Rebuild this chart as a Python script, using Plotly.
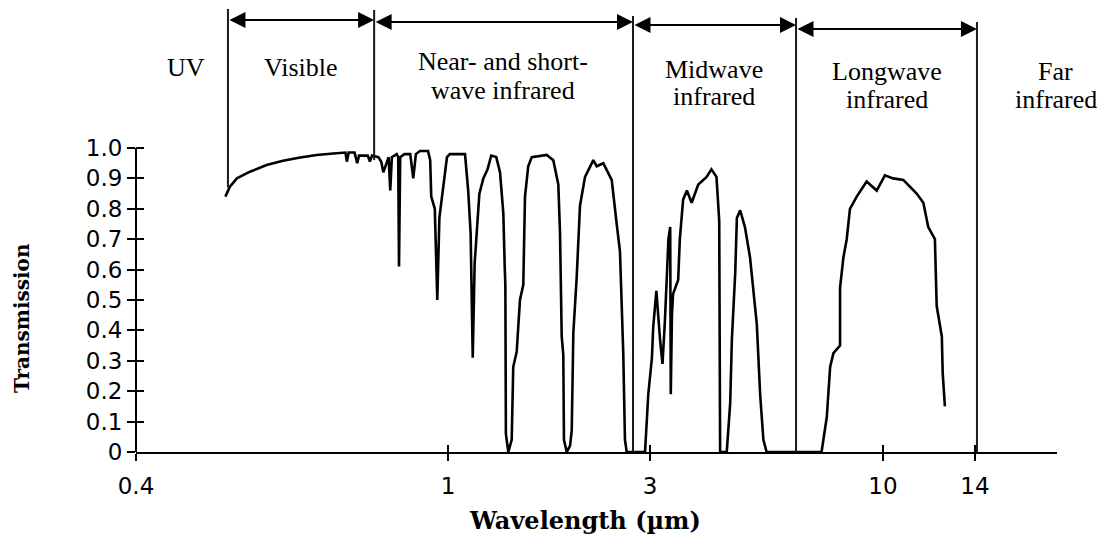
import numpy as np
import plotly.graph_objects as go

# ---------------- data ----------------
WAVELENGTH = [
    0.520, 0.527, 0.538, 0.559, 0.587, 0.616, 0.648, 0.680, 0.714, 0.732,
    0.740, 0.743, 0.747, 0.760, 0.766, 0.770, 0.790, 0.795, 0.800, 0.815,
    0.822, 0.827, 0.835, 0.840, 0.844, 0.848, 0.860, 0.864, 0.866, 0.869,
    0.880, 0.895, 0.903, 0.910, 0.921, 0.943, 0.949, 0.952, 0.962, 0.969,
    0.975, 0.987, 0.997, 1.010, 1.097, 1.116, 1.131, 1.144, 1.156, 1.169,
    1.186, 1.212, 1.240, 1.265, 1.300, 1.327, 1.351, 1.362, 1.366, 1.370,
    1.388, 1.414, 1.426, 1.453, 1.479, 1.506, 1.520, 1.547, 1.577, 1.711,
    1.773, 1.822, 1.839, 1.856, 1.872, 1.879, 1.907, 1.942, 1.960, 1.977,
    2.014, 2.050, 2.107, 2.204, 2.245, 2.327, 2.436, 2.503, 2.548, 2.594,
    2.618, 2.643,
    2.920, 2.972, 3.03, 3.05, 3.10, 3.16, 3.20, 3.24, 3.30, 3.33,
    3.34, 3.36, 3.38, 3.47, 3.50, 3.56, 3.63, 3.72, 3.85, 4.02,
    4.12, 4.23, 4.29, 4.31,
    4.46, 4.54, 4.58, 4.66, 4.70, 4.78, 4.90, 5.03, 5.12, 5.21,
    5.30, 5.39, 5.48,
    7.28, 7.48, 7.61, 7.74, 8.01, 8.01, 8.15, 8.29, 8.43, 8.73,
    9.19, 9.68, 10.07, 10.38, 10.77, 11.31, 11.59, 11.80, 12.09, 12.17,
    12.40, 12.44, 12.54,
]
TRANSMISSION = [
    0.84, 0.873, 0.90, 0.922, 0.944, 0.958, 0.969, 0.977, 0.982, 0.985,
    0.985, 0.955, 0.985, 0.985, 0.95, 0.975, 0.975, 0.955, 0.975, 0.97,
    0.955, 0.92, 0.95, 0.97, 0.86, 0.97, 0.98, 0.97, 0.61, 0.97,
    0.98, 0.98, 0.90, 0.98, 0.99, 0.99, 0.96, 0.84, 0.80, 0.50,
    0.77, 0.88, 0.97, 0.98, 0.98, 0.86, 0.72, 0.31, 0.62, 0.72,
    0.85, 0.90, 0.93, 0.975, 0.97, 0.92, 0.785, 0.60, 0.55, 0.06,
    0.0, 0.04, 0.28, 0.33, 0.50, 0.55, 0.84, 0.94, 0.97, 0.977,
    0.96, 0.88, 0.72, 0.38, 0.32, 0.04, 0.0, 0.02, 0.07, 0.39,
    0.577, 0.81, 0.905, 0.96, 0.94, 0.95, 0.895, 0.75, 0.66, 0.325,
    0.04, 0.0,
    0.0, 0.19, 0.31, 0.41, 0.53, 0.37, 0.29, 0.43, 0.70, 0.74,
    0.19, 0.45, 0.52, 0.566, 0.70, 0.83, 0.86, 0.82, 0.88, 0.905,
    0.93, 0.905, 0.76, 0.0,
    0.0, 0.16, 0.37, 0.59, 0.77, 0.795, 0.74, 0.64, 0.54, 0.42,
    0.19, 0.04, 0.0,
    0.0, 0.116, 0.28, 0.325, 0.35, 0.54, 0.64, 0.70, 0.80, 0.84,
    0.89, 0.86, 0.91, 0.90, 0.895, 0.85, 0.82, 0.74, 0.70, 0.48,
    0.38, 0.26, 0.15,
]

X_TICK_WL = [0.4, 1, 3, 10, 14]
X_TICK_TEXT = ["0.4", "1", "3", "10", "14"]
Y_TICKS = [0, 0.1, 0.2, 0.3, 0.4, 0.5, 0.6, 0.7, 0.8, 0.9, 1.0]
Y_TICK_TEXT = ["0", "0.1", "0.2", "0.3", "0.4", "0.5", "0.6", "0.7", "0.8", "0.9", "1.0"]

REGION_BOUNDS = [0.524, 0.805, 2.735, 6.38, 14.1]
REGION_NAMES = [["UV"], ["Visible"], ["Near- and short-", "wave infrared"],
                ["Midwave", "infrared"], ["Longwave", "infrared"], ["Far", "infrared"]]
LABEL_WL = [0.463, 0.65, 1.35, 4.18, 10.15, 18.8]

# ---------------- axis scale of the original figure ----------------
# the printed wavelength axis is not a uniform log scale: piecewise-log between ticks
SCALE_WL = [0.4, 1, 3, 10, 14]
SCALE_POS = [0, 312, 514, 747, 839]
X_END = 921


def warp(wl):
    lw = np.log10(np.asarray(wl, dtype=float))
    la = np.log10(SCALE_WL)
    out = np.interp(lw, la, SCALE_POS)
    slope_hi = (SCALE_POS[-1] - SCALE_POS[-2]) / (la[-1] - la[-2])
    out = np.where(lw > la[-1], SCALE_POS[-1] + (lw - la[-1]) * slope_hi, out)
    return out


# layout geometry (page body has an 8 px margin)
OFF = 8
W, H = 1107 - OFF, 544 - 2 * OFF
PLOT_TOP_REF, AXIS_REF, LEFT_REF, RIGHT_REF = 8, 452, 136, 1057
M_L = LEFT_REF - OFF
M_T = PLOT_TOP_REF - OFF
M_B = H - (AXIS_REF - OFF)
M_R = W - (RIGHT_REF - OFF)
PLOT_H = AXIS_REF - PLOT_TOP_REF
PLOT_W = RIGHT_REF - LEFT_REF
PX_PER_UNIT = 304.0
Y_END = PLOT_H / PX_PER_UNIT


def py_to_paper(py):
    return (AXIS_REF - py) / PLOT_H


def px_to_paper(px):
    return (px - LEFT_REF) / PLOT_W


def py_to_t(py):
    return (AXIS_REF - py) / PX_PER_UNIT


fig = go.Figure()
fig.add_trace(go.Scatter(
    x=warp(WAVELENGTH), y=TRANSMISSION, mode="lines",
    line=dict(color="black", width=2.6), hoverinfo="skip", showlegend=False))
# helper trace so that the overlaid tick-only axes are drawn
fig.add_trace(go.Scatter(x=[None], y=[None], xaxis="x2", yaxis="y2",
                         showlegend=False, hoverinfo="skip"))

tickfont = dict(family="DejaVu Sans", size=23, color="black")
xt = warp(X_TICK_WL)

fig.update_layout(
    width=W, height=H, autosize=False,
    margin=dict(l=M_L, r=M_R, t=M_T, b=M_B, pad=0),
    paper_bgcolor="white", plot_bgcolor="white",
    xaxis=dict(range=[0, X_END], showline=True, linecolor="black", linewidth=2,
               ticks="outside", ticklen=7, tickwidth=2, tickcolor="black",
               tickvals=xt, ticktext=X_TICK_TEXT, tickfont=tickfont,
               showgrid=False, zeroline=False, ticklabelstandoff=5,
               automargin=False),
    xaxis2=dict(range=[0, X_END], overlaying="x", anchor="y2", side="bottom",
                ticks="inside", ticklen=7, tickwidth=2, tickcolor="black",
                tickvals=xt, showticklabels=False, showgrid=False,
                zeroline=False, showline=False),
    yaxis=dict(range=[0, Y_END], showline=False, ticks="outside", ticklen=8,
               tickwidth=2, tickcolor="black", tickvals=Y_TICKS,
               ticktext=Y_TICK_TEXT, tickfont=tickfont, showgrid=False,
               zeroline=False, automargin=False),
    yaxis2=dict(range=[0, Y_END], overlaying="y", anchor="x2", side="left",
                ticks="inside", ticklen=8, tickwidth=2, tickcolor="black",
                tickvals=Y_TICKS, showticklabels=False, showgrid=False,
                zeroline=False, showline=False),
)

# y-axis line only from 0 to 1.0
fig.add_shape(type="line", xref="paper", yref="y", x0=0, x1=0, y0=0, y1=1.0,
              line=dict(color="black", width=2))

# region divider lines
line_top = [py_to_t(p) for p in (9, 10, 16, 18, 22)]
line_bottom = [0.87, 0.96, 0, 0, 0]
for b, y0, y1 in zip(REGION_BOUNDS, line_bottom, line_top):
    xb = float(warp(b))
    fig.add_shape(type="line", xref="x", yref="y", x0=xb, x1=xb, y0=y0, y1=y1,
                  line=dict(color="#1a1a1a", width=2))

# double-headed arrows between dividers
arrow_y = [py_to_t(p) for p in (20, 22, 25, 29)]
for i in range(len(REGION_BOUNDS) - 1):
    x0 = float(warp(REGION_BOUNDS[i]))
    x1 = float(warp(REGION_BOUNDS[i + 1]))
    fig.add_annotation(x=x1, y=arrow_y[i], ax=x0, ay=arrow_y[i],
                       xref="x", yref="y", axref="x", ayref="y", text="",
                       showarrow=True, arrowhead=2, arrowside="end+start",
                       arrowsize=1.6, arrowwidth=2, arrowcolor="black",
                       standoff=0, startstandoff=0)

# region labels
label_py = [[68], [68], [62, 90], [69, 97], [72, 99], [72, 99]]
labfont = dict(family="Liberation Serif", size=26, color="black")
for names, wl, pys in zip(REGION_NAMES, LABEL_WL, label_py):
    xp = float(warp(wl)) / X_END
    for name, py in zip(names, pys):
        fig.add_annotation(x=xp, y=py_to_paper(py), xref="paper", yref="paper",
                           text=name, showarrow=False, font=labfont,
                           xanchor="center", yanchor="middle")

# axis titles
fig.add_annotation(x=px_to_paper(22), y=py_to_paper(318),
                   xref="paper", yref="paper", text="<b>Transmission</b>",
                   textangle=-90, showarrow=False, xanchor="center", yanchor="middle",
                   font=dict(family="DejaVu Serif", size=20, color="black"))
fig.add_annotation(x=px_to_paper(585), y=py_to_paper(520),
                   xref="paper", yref="paper", xanchor="center", yanchor="middle",
                   text="<b>Wavelength (µm)</b>", showarrow=False,
                   font=dict(family="DejaVu Serif", size=24, color="black"))

fig.write_html("out.html")
